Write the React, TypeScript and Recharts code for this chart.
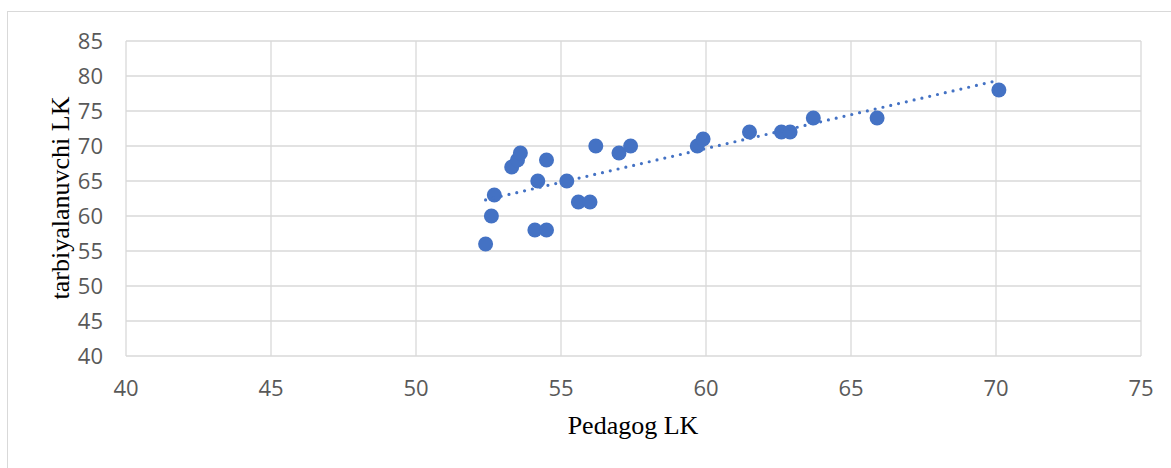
import { ScatterChart, Scatter, XAxis, YAxis, CartesianGrid, Label } from 'recharts'

// Pedagog LK (x) and tarbiyalanuvchi LK (y) for each respondent
const pedagogLK = [
  52.4, 52.6, 52.7, 53.3, 53.5, 53.6, 54.1, 54.5, 54.2, 54.5, 55.2, 55.6,
  56.0, 56.2, 57.0, 57.4, 59.7, 59.9, 61.5, 62.6, 62.9, 63.7, 65.9, 70.1
]
const tarbiyalanuvchiLK = [
  56, 60, 63, 67, 68, 69, 58, 58, 65, 68, 65, 62,
  62, 70, 69, 70, 70, 71, 72, 72, 72, 74, 74, 78
]

// linear trendline endpoints
const trendX = [52.4, 70.1]
const trendY = [62.3, 79.4]

const xTicks = [40, 45, 50, 55, 60, 65, 70, 75]
const yTicks = [40, 45, 50, 55, 60, 65, 70, 75, 80, 85]

const points = pedagogLK.map((x, i) => ({ x, y: tarbiyalanuvchiLK[i] }))
const trend = trendX.map((x, i) => ({ x, y: trendY[i] }))

const BLUE = '#4472C4'
const GRID = '#d9d9d9'
const tickStyle = { fontFamily: '"Open Sans", sans-serif', fontSize: 22, fill: '#595959' }
const titleStyle = { fontFamily: '"Liberation Serif", "Times New Roman", serif', fontSize: 26, fill: '#000' }

export default function App() {
  return (
    <div style={{ position: 'absolute', left: 0, top: 0, width: 1171, height: 468, overflow: 'hidden', background: '#fff' }}>
      {/* chart frame, its right and bottom edges fall outside the picture */}
      <div style={{ position: 'absolute', left: 7, top: 11, width: 1250, height: 520, border: `1px solid ${GRID}`, boxSizing: 'border-box' }} />
      <div style={{ position: 'absolute', left: 0, top: 0 }}>
        <ScatterChart width={1171} height={468} margin={{ top: 41, right: 30, bottom: 72, left: 66 }}>
          <CartesianGrid stroke={GRID} strokeWidth={1.3} />
          <XAxis
            type="number"
            dataKey="x"
            domain={[40, 75]}
            ticks={xTicks}
            allowDataOverflow
            axisLine={false}
            tickLine={false}
            tickSize={0}
            tickMargin={24}
            height={40}
            tick={tickStyle}
          >
            <Label
              content={() => (
                <text x={633} y={425} textAnchor="middle" dominantBaseline="central" style={titleStyle}>
                  Pedagog LK
                </text>
              )}
            />
          </XAxis>
          <YAxis
            type="number"
            dataKey="y"
            domain={[40, 85]}
            ticks={yTicks}
            allowDataOverflow
            axisLine={false}
            tickLine={false}
            tickSize={0}
            tickMargin={23}
            width={60}
            tick={tickStyle}
          >
            <Label
              content={() => (
                <text
                  x={60}
                  y={198}
                  textAnchor="middle"
                  dominantBaseline="central"
                  transform="rotate(-90 60 198)"
                  style={titleStyle}
                >
                  tarbiyalanuvchi LK
                </text>
              )}
            />
          </YAxis>
          <Scatter
            data={points}
            isAnimationActive={false}
            shape={(p: any) => <circle cx={p.cx} cy={p.cy} r={7.5} fill={BLUE} />}
          />
          <Scatter
            data={trend}
            isAnimationActive={false}
            line={{ stroke: BLUE, strokeWidth: 3.2, strokeDasharray: '0 8', strokeLinecap: 'round' }}
            shape={() => <g />}
          />
        </ScatterChart>
      </div>
    </div>
  )
}
